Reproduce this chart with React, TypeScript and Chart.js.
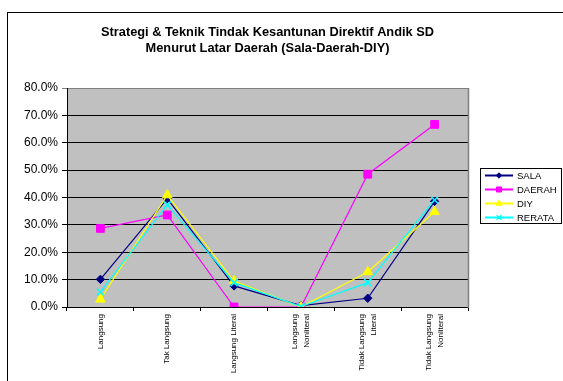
import React, { useEffect, useRef } from 'react';
import { Chart, registerables } from 'chart.js';
import { drawPoint } from 'chart.js/helpers';

Chart.register(...registerables);

const titleLines = [
  'Strategi & Teknik Tindak Kesantunan Direktif Andik SD',
  'Menurut Latar Daerah (Sala-Daerah-DIY)',
];
const categories: string[][] = [
  ['Langsung'],
  ['Tak Langsung'],
  ['Langsung Literal'],
  ['Langsung', 'Nonliteral'],
  ['Tidak Langsung', 'Literal'],
  ['Tidak Langsung', 'Nonliteral'],
];
const seriesNames = ['SALA', 'DAERAH', 'DIY', 'RERATA'];
const sala = [10.1, 39.6, 7.7, 0.5, 3.2, 38.6];
const daerah = [28.7, 33.6, 0, 0, 48.5, 66.7];
const diy = [2.8, 40.9, 9.5, 0, 12.8, 34.8];
const rerata = [5.5, 37.3, 8.9, 0.2, 8.9, 39.1];
const yMin = 0;
const yMax = 80;
const yStep = 10;

const FONT = '"Liberation Sans", Arial, sans-serif';
const LABEL_LH = 12.5;

// single-line labels get an empty leading line and half line height so that
// every label is centred on its category after the shared label offset
const chartLabels = categories.map((c) => (c.length === 1 ? ['', c[0]] : c));

const frameAndTitle = {
  id: 'frameAndTitle',
  beforeDraw(chart: any) {
    const { ctx, chartArea } = chart;
    ctx.save();
    ctx.fillStyle = '#ffffff';
    ctx.fillRect(0, 0, chart.width, chart.height);
    ctx.strokeStyle = '#000000';
    ctx.lineWidth = 1;
    ctx.strokeRect(7.5, 12.5, chart.width + 20, chart.height + 20);
    ctx.fillStyle = '#C0C0C0';
    ctx.fillRect(chartArea.left, chartArea.top, chartArea.right - chartArea.left, chartArea.bottom - chartArea.top);
    ctx.fillStyle = '#000000';
    ctx.font = 'bold 12.8px ' + FONT;
    ctx.textAlign = 'center';
    ctx.textBaseline = 'alphabetic';
    const cx = (chartArea.left + chartArea.right) / 2;
    ctx.fillText(titleLines[0], cx, 36);
    ctx.fillText(titleLines[1], cx, 52);
    ctx.restore();
  },
  afterDatasetsDraw(chart: any) {
    const { ctx, chartArea } = chart;
    ctx.save();
    ctx.strokeStyle = '#808080';
    ctx.lineWidth = 1.5;
    ctx.beginPath();
    ctx.moveTo(chartArea.right + 0.5, chartArea.top);
    ctx.lineTo(chartArea.right + 0.5, chartArea.bottom + 1);
    ctx.stroke();
    // legend
    const lx = 480.5, ly = 168.5, lw = 81, lh = 55;
    ctx.fillStyle = '#ffffff';
    ctx.fillRect(lx, ly, lw, lh);
    ctx.strokeStyle = '#000000';
    ctx.lineWidth = 1;
    ctx.strokeRect(lx, ly, lw, lh);
    ctx.font = '9.5px ' + FONT;
    ctx.textAlign = 'left';
    ctx.textBaseline = 'middle';
    chart.data.datasets.forEach((ds: any, i: number) => {
      const y = 175.5 + i * 14;
      ctx.strokeStyle = ds.borderColor;
      ctx.lineWidth = 2;
      ctx.beginPath();
      ctx.moveTo(485, y);
      ctx.lineTo(513, y);
      ctx.stroke();
      ctx.fillStyle = ds.pointBackgroundColor;
      ctx.strokeStyle = ds.pointBorderColor;
      ctx.lineWidth = ds.pointBorderWidth;
      drawPoint(ctx, { pointStyle: ds.pointStyle, radius: ds.pointRadius * 0.65, rotation: 0, borderWidth: ds.pointBorderWidth }, 499, y);
      ctx.fillStyle = '#000000';
      ctx.fillText(ds.label, 517, y + 0.5);
    });
    ctx.restore();
  },
};

function ds(label: string, data: number[], color: string, pointStyle: string, radius: number, order: number) {
  return {
    label,
    data,
    borderColor: color,
    backgroundColor: color,
    pointBackgroundColor: color,
    pointBorderColor: color,
    pointBorderWidth: pointStyle === 'crossRot' ? 1.5 : 1,
    borderWidth: 1.2,
    pointStyle,
    pointRadius: radius,
    tension: 0,
    order,
  };
}

export default function App() {
  const ref = useRef<HTMLCanvasElement>(null);
  useEffect(() => {
    if (!ref.current) return;
    const chart = new Chart(ref.current, {
      type: 'line',
      data: {
        labels: chartLabels,
        datasets: [
          ds(seriesNames[0], sala, '#000080', 'rectRot', 4.2, 4),
          ds(seriesNames[1], daerah, '#FF00FF', 'rect', 5.5, 3),
          ds(seriesNames[2], diy, '#FFFF00', 'triangle', 5.5, 2),
          ds(seriesNames[3], rerata, '#00FFFF', 'crossRot', 5, 1),
        ] as any,
      },
      options: {
        animation: false,
        responsive: false,
        maintainAspectRatio: false,
        layout: { padding: { left: 0, top: 88, right: 95, bottom: 0 } },
        plugins: {
          legend: { display: false },
          title: { display: false },
          tooltip: { enabled: false },
        },
        scales: {
          x: {
            offset: true,
            grid: { offset: true, drawOnChartArea: false, drawTicks: true, tickLength: 4, color: '#000000' },
            border: { color: '#000000', width: 1 },
            ticks: {
              autoSkip: false,
              minRotation: 90,
              maxRotation: 90,
              padding: 3,
              labelOffset: -LABEL_LH / 2,
              color: '#000000',
              font: (c: any) => ({
                family: FONT,
                size: 8,
                lineHeight: (categories[c.index] && categories[c.index].length === 1 ? LABEL_LH / 2 : LABEL_LH) + 'px',
              }),
            },
            afterFit(scale: any) { scale.height = 74; },
          },
          y: {
            min: yMin,
            max: yMax,
            grid: {
              color: (c: any) => (c.tick && c.tick.value === yMax ? '#808080' : '#000000'),
              lineWidth: 1,
              tickLength: 5,
            },
            border: { color: '#000000', width: 1 },
            ticks: {
              stepSize: yStep,
              padding: 4,
              color: '#000000',
              font: { family: FONT, size: 12 },
              callback: (v: any) => Number(v).toFixed(1) + '%',
            },
            afterFit(scale: any) { scale.width = 67; },
          },
        },
      },
      plugins: [frameAndTitle],
    });
    return () => chart.destroy();
  }, []);
  return (
    <div style={{ position: 'fixed', left: 0, top: 0, width: 563, height: 381 }}>
      <canvas ref={ref} width={563} height={381} style={{ display: 'block' }} />
    </div>
  );
}
